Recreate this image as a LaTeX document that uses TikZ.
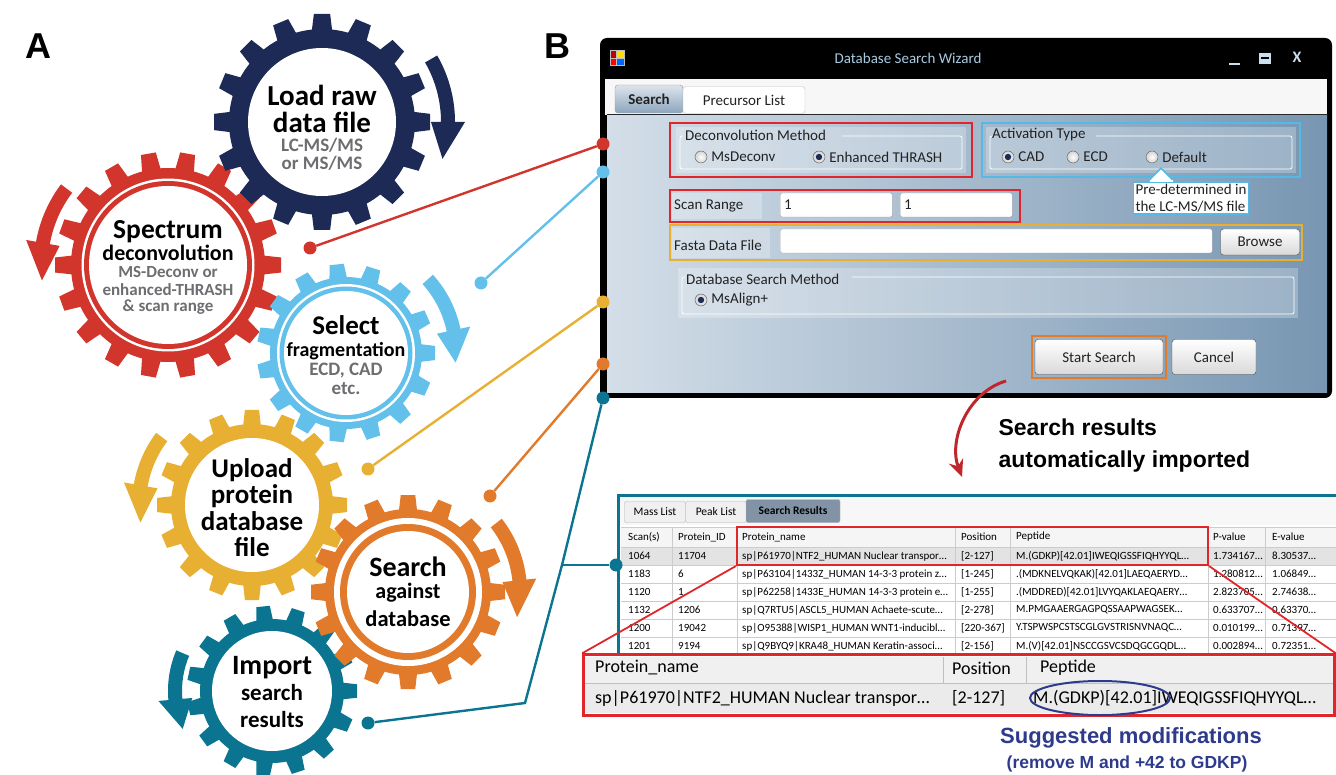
\documentclass[tikz,border=0pt]{standalone}
\usepackage{fontspec}
\setmainfont{Carlito}
\newfontfamily\arialfont{Liberation Sans}
\usetikzlibrary{positioning,arrows.meta,shapes.geometric}

\definecolor{gnavy}{HTML}{1C2A55}
\definecolor{gred}{HTML}{D1352B}
\definecolor{gblue}{HTML}{62C0EA}
\definecolor{gyellow}{HTML}{E8B033}
\definecolor{gorange}{HTML}{E27A2B}
\definecolor{gteal}{HTML}{0B7591}
\definecolor{subgray}{HTML}{6D6E71}
\definecolor{sugblue}{HTML}{2E3A8C}
\definecolor{winlo}{HTML}{D3DEE8}
\definecolor{winhi}{HTML}{7896B2}
\definecolor{titleblue}{HTML}{A8CBE2}
\definecolor{frred}{HTML}{E0262B}
\definecolor{tipblue}{HTML}{55B9E6}
\definecolor{uitext}{HTML}{222222}
\definecolor{arrred}{HTML}{C0272D}
\definecolor{tabdark}{HTML}{8293A6}

\newcommand{\drawgear}[6]{%
	\begin{scope}[shift={(#1,#2)}]
		\fill[#6] (0,0) circle (#4);
		\foreach \k in {1,...,#3} {{
			\fill[#6, rotate={360/#3*\k}] ({#4-4},{-1.8*#4/#3}) -- ({#5},{-1.4*#4/#3}) -- ({#5},{1.4*#4/#3}) -- ({#4-4},{1.8*#4/#3}) -- cycle;
		}}
	\end{scope}}

\newcommand{\drawturn}[7]{%
	\fill[#7, shift={(#1,#2)}] ({#4}:{#3-7}) arc[start angle={#4}, end angle={#5}, radius={#3-7}] -- ({#5}:{#3-17}) -- ({#6}:{#3}) -- ({#5}:{#3+17}) -- ({#5}:{#3+7}) arc[start angle={#5}, end angle={#4}, radius={#3+7}] -- cycle;}

\newcommand{\groupbox}[5]{%
	\fill[white, opacity=0.25] (#1,#2) rectangle (#3,#4);
	\draw[white, line width=0.8pt, rounded corners=2pt] (#5,{#2-9}) -- ({#3-4},{#2-9}) -- ({#3-4},{#4+4}) -- ({#1+4},{#4+4}) -- ({#1+4},{#2-9}) -- ({#1+7},{#2-9});}

\tikzset{
	gt/.style={font=\bfseries\fontsize{#1}{#1}\selectfont, inner sep=0pt},
	gs/.style={gt=#1, text=subgray},
	dot/.style={circle, fill=#1, inner sep=0pt, minimum size=13pt},
	link/.style={line width=2.4pt, draw=#1},
	hl/.style={draw=#1, line width=2pt},
	ui/.style={font=\fontsize{15}{18}\selectfont, text=uitext, inner sep=1pt},
	radio/.style={circle, draw=gray!70!black, inner color=white, outer color=gray!35, minimum size=12pt, inner sep=0pt},
	radioon/.style={radio, path picture={\fill[gnavy] (path picture bounding box.center) circle (3.2pt);}},
	field/.style={draw=gray!70, fill=white, rounded corners=2pt, minimum height=24pt, ui, inner sep=4pt, align=left},
	btn/.style={draw=gray!60!black, rounded corners=3pt, top color=white, bottom color=gray!30, ui, minimum height=35pt},
	tabbox/.style={draw=gray!60, fill=gray!12, rounded corners=2pt, minimum width=61pt, minimum height=21pt, font=\fontsize{11.5}{11.5}\selectfont, inner sep=1pt},
	tb/.style={font=\fontsize{11}{11}\selectfont, text=black, anchor=west, inner sep=0pt},
	zb/.style={font=\fontsize{18}{18}\selectfont, text=black, anchor=west, inner sep=0pt}
}

\begin{document}
\begin{tikzpicture}[x=1pt, y=1pt]
	\useasboundingbox (0,0) rectangle (1336,-775);

	\node[font=\arialfont\bfseries\fontsize{36}{36}\selectfont] (labA) at (38,-46) {A};
	\node[font=\arialfont\bfseries\fontsize{36}{36}\selectfont] (labB) at (557,-46) {B};

	% kola
	\drawgear{168}{-265}{18}{97}{113}{gred}
	\fill[white] (168,-265) circle (86.5);
	\fill[gred] (168,-265) circle (84);
	\fill[white] (168,-265) circle (79);

	\drawgear{322}{-122}{16}{93}{108}{gnavy}
	\fill[white] (322,-122) circle (74);

	\drawgear{346}{-353}{15}{76}{89}{gblue}
	\fill[white] (346,-353) circle (69);
	\fill[gblue] (346,-353) circle (66.5);
	\fill[white] (346,-353) circle (62);

	\drawgear{252}{-505}{16}{81}{95}{gyellow}
	\fill[white] (252,-505) circle (67);

	\drawgear{272}{-691}{15}{72}{85}{gteal}
	\fill[white] (272,-691) circle (60);

	\drawgear{408}{-592}{16}{83}{97}{gorange}
	\fill[white] (408,-592) circle (74);
	\fill[gorange] (408,-592) circle (68);
	\fill[white] (408,-592) circle (61);

	\drawturn{322}{-122}{126}{30}{0}{-17}{gnavy}
	\drawturn{168}{-265}{127}{143}{170}{187}{gred}
	\drawturn{346}{-353}{110}{42}{12}{-5}{gblue}
	\drawturn{252}{-505}{113}{143}{170}{189}{gyellow}
	\drawturn{408}{-592}{112}{38}{6}{-13}{gorange}
	\drawturn{272}{-691}{97}{157}{185}{203}{gteal}

	\node[gt=29] (n1a) at (322,-95) {Load raw};
	\node[gt=29] (n1b) at (322,-122) {data file};
	\node[gs=19] (n1c) at (322,-145) {LC-MS/MS};
	\node[gs=19] (n1d) at (322,-163) {or MS/MS};

	\node[gt=27.5] (n2a) at (168,-232) {Spectrum};
	\node[gt=22] (n2b) at (168,-253) {deconvolution};
	\node[gs=17] (n2c) at (168,-272) {MS-Deconv or};
	\node[gs=17] (n2d) at (168,-290) {enhanced-THRASH};
	\node[gs=17] (n2e) at (168,-307) {\& scan range};

	\node[gt=27] (n3a) at (346,-325) {Select};
	\node[gt=20] (n3b) at (346,-351) {fragmentation};
	\node[gs=19] (n3c) at (346,-371) {ECD, CAD};
	\node[gs=19] (n3d) at (346,-389) {etc.};

	\node[gt=27] (n4a) at (252,-470) {Upload};
	\node[gt=27] (n4b) at (252,-496) {protein};
	\node[gt=27] (n4c) at (252,-521) {database};
	\node[gt=27] (n4d) at (252,-547) {file};

	\node[gt=28] (n5a) at (408,-567) {Search};
	\node[gt=22] (n5b) at (408,-593) {against};
	\node[gt=22.5] (n5c) at (408,-619) {database};

	\node[gt=28] (n6a) at (272,-668) {Import};
	\node[gt=23] (n6b) at (272,-693) {search};
	\node[gt=23] (n6c) at (272,-720) {results};

	% okno
	\fill[black, rounded corners=7pt] (600,-38) rectangle (1332,-398);
	\node[text=titleblue, font=\fontsize{15}{15}\selectfont] (title) at (908,-58) {Database Search Wizard};
	\fill[gray!50] (610,-50) rectangle (625,-66);
	\fill[red!75!black] (611,-51) rectangle (616,-58);
	\fill[yellow!80!orange] (617,-51) rectangle (624,-58);
	\fill[red] (611,-59) rectangle (616,-65);
	\fill[blue!60!cyan] (617,-59) rectangle (624,-65);
	\draw[titleblue!60!white, line width=2pt] (1229,-64) -- (1240,-64);
	\fill[titleblue!60!white] (1259,-53) rectangle (1271,-64);
	\fill[black] (1261,-57.5) rectangle (1269,-59.5);
	\node[text=titleblue!60!white, font=\bfseries\fontsize{16}{16}\selectfont] (xbtn) at (1297,-57) {X};

	\fill[white!94!gray] (605,-79) rectangle (1327,-115);
	\shade[left color=winlo, right color=winhi] (607,-115) rectangle (1327,-393);
	\draw[gray!30!black, line width=1pt] (607,-115) -- (1327,-115);
	\node[draw=gray!80, top color=white!75!winhi, bottom color=winhi!85!white, rounded corners=3pt, minimum width=68pt, minimum height=28pt, font=\bfseries\fontsize{15}{15}\selectfont, text=uitext] (tabS) at (649,-99) {Search};
	\node[draw=gray!50, fill=white, rounded corners=3pt, minimum width=122pt, minimum height=27pt, ui] (tabP) at (744,-100) {Precursor List};

	\groupbox{676}{-127}{966}{-173}{842}
	\node[ui, anchor=west] (gdec) at (684,-135) {Deconvolution Method};
	\node[radio] (r1) at (701,-157) {};
	\node[ui, right=3pt of r1] (l1) {MsDeconv};
	\node[radioon] (r2) at (819,-157) {};
	\node[ui, right=3pt of r2] (l2) {Enhanced THRASH};
	\draw[hl=frred] (670,-123) rectangle (972,-177);

	\groupbox{986}{-127}{1296}{-173}{1096}
	\node[ui, anchor=west] (gact) at (991,-135) {Activation Type};
	\node[radioon] (r3) at (1008,-157) {};
	\node[ui, right=3pt of r3] (l3) {CAD};
	\node[radio] (r4) at (1073,-157) {};
	\node[ui, right=3pt of r4] (l4) {ECD};
	\node[radio] (r5) at (1152,-157) {};
	\node[ui, right=3pt of r5] (l5) {Default};
	\draw[hl=tipblue] (982,-123) rectangle (1300,-177);

	\node[ui, draw=tipblue, fill=white, line width=1.5pt, align=left, inner sep=2pt, font=\fontsize{15}{17}\selectfont] (tip) at (1191,-198) {Pre-determined in\\the LC-MS/MS file};
	\draw[tipblue, fill=white, line width=1.5pt] ([xshift=-43pt]tip.north) -- ([xshift=-30pt, yshift=13pt]tip.north) -- ([xshift=-17pt]tip.north);
	\draw[white, line width=2pt] ([xshift=-41.5pt]tip.north) -- ([xshift=-18.5pt]tip.north);

	\fill[white, opacity=0.25] (672,-193) rectangle (762,-219);
	\node[ui, anchor=west] (lscan) at (673,-206) {Scan Range};
	\node[field, text width=104pt, anchor=west] (f1) at (780,-205) {1};
	\node[field, text width=104pt, anchor=west] (f2) at (900,-205) {1};
	\draw[hl=frred] (670,-190) rectangle (1020,-222);

	\fill[white, opacity=0.25] (672,-228) rectangle (770,-258);
	\node[ui, anchor=west] (lfasta) at (673,-245) {Fasta Data File};
	\node[field, text width=424pt, anchor=west] (f3) at (780,-241) {};
	\node[btn, minimum width=79pt, minimum height=26pt] (browse) at (1260,-242) {Browse};
	\draw[hl=gyellow] (670,-225) rectangle (1302,-260);

	\groupbox{678}{-268}{1298}{-318}{852}
	\node[ui, anchor=west] (gdb) at (685,-279) {Database Search Method};
	\node[radioon] (r6) at (701,-300) {};
	\node[ui, right=3pt of r6] (l6) {MsAlign+};

	\node[btn, minimum width=128pt] (start) at (1099,-357) {Start Search};
	\draw[hl=gorange] ([shift={(-3pt,3pt)}]start.north west) rectangle ([shift={(3pt,-3pt)}]start.south east);
	\node[btn, minimum width=84pt] (cancel) at (1214,-357) {Cancel};

	% polaczenia
	\node[dot=gred] (p1) at (310,-248) {};
	\node[dot=gblue] (p2) at (481,-283) {};
	\node[dot=gyellow] (p3) at (368,-469) {};
	\node[dot=gorange] (p4) at (490,-496) {};
	\node[dot=gteal] (p5) at (368,-723) {};
	\node[dot=gred] (w1) at (603,-144) {};
	\node[dot=gblue] (w2) at (603,-172) {};
	\node[dot=gyellow] (w3) at (603,-302) {};
	\node[dot=gorange] (w4) at (603,-364) {};
	\node[dot=gteal] (w5) at (603,-398) {};
	\draw[link=gred] (p1) -- (w1);
	\draw[link=gblue] (p2) -- (w2);
	\draw[link=gyellow] (p3) -- (w3);
	\draw[link=gorange] (p4) -- (w4);
	\coordinate (k1) at (562,-565);
	\coordinate (k2) at (525,-703);
	\draw[link=gteal] (w5) -- (k1) -- (k2) -- (p5);

	\coordinate (a1) at (1006,-381);
	\coordinate (a2) at (962,-477);
	\draw[arrred, line width=3pt, -{Stealth[length=17pt, width=15pt]}] (a1) .. controls (968,-392) and (948,-440) .. (a2);
	\node[font=\arialfont\bfseries\fontsize{23}{32}\selectfont, align=left, anchor=west] (srtxt) at (995,-446) {Search results\\automatically imported};

	% tabela
	\draw[gteal, line width=3pt, fill=white] (618,-495) rectangle (1340,-656);
	\fill[gray!6] (620,-497) rectangle (1336,-525);
	\node[tabbox] (tm) at (655,-512) {Mass List};
	\node[tabbox] (tp) at (716,-512) {Peak List};
	\node[tabbox, fill=tabdark, minimum width=94pt, minimum height=23pt, font=\bfseries\fontsize{11.5}{11.5}\selectfont] (ts) at (793,-511) {Search Results};
	\fill[gray!8] (621,-527) rectangle (1336,-547);
	\fill[gray!22] (621,-547) rectangle (1336,-565);
	\foreach \y in {527,547,565,583,601,619,637} {{
		\draw[gray!40] (621,-\y) -- (1336,-\y);
	}}
	\foreach \x in {672,737,955,1010,1208,1265} {{
		\draw[gray!40] (\x,-527) -- (\x,-655);
	}}
	\foreach \x/\txt [count=\i] in {628/Scan(s), 678/Protein\_ID, 742/Protein\_name, 961/Position, 1016/Peptide, 1213/P-value, 1272/E-value} {{
		\node[tb] (h\i) at (\x,-537) {\txt};
	}}
	\foreach \y/\sc/\pid/\pn/\pos/\pep/\pv/\ev [count=\i] in {
		556/1064/11704/{sp|P61970|NTF2\_HUMAN Nuclear transpor\dots}/{[2-127]}/{M.(GDKP)[42.01]IWEQIGSSFIQHYYQL\dots}/{1.734167\dots}/{8.30537\dots},
		574/1183/6/{sp|P63104|1433Z\_HUMAN 14-3-3 protein z\dots}/{[1-245]}/{.(MDKNELVQKAK)[42.01]LAEQAERYD\dots}/{1.280812\dots}/{1.06849\dots},
		592/1120/1/{sp|P62258|1433E\_HUMAN 14-3-3 protein e\dots}/{[1-255]}/{.(MDDRED)[42.01]LVYQAKLAEQAERY\dots}/{2.823705\dots}/{2.74638\dots},
		610/1132/1206/{sp|Q7RTU5|ASCL5\_HUMAN Achaete-scute\dots}/{[2-278]}/{M.PMGAAERGAGPQSSAAPWAGSEK\dots}/{0.633707\dots}/{0.63370\dots},
		628/1200/19042/{sp|O95388|WISP1\_HUMAN WNT1-inducibl\dots}/{[220-367]}/{Y.TSPWSPCSTSCGLGVSTRISNVNAQC\dots}/{0.010199\dots}/{0.71397\dots},
		646/1201/9194/{sp|Q9BYQ9|KRA48\_HUMAN Keratin-associ\dots}/{[2-156]}/{M.(V)[42.01]NSCCGSVCSDQGCGQDL\dots}/{0.002894\dots}/{0.72351\dots}} {{
		\node[tb] (sc\i) at (628,-\y) {\sc};
		\node[tb] (pid\i) at (678,-\y) {\pid};
		\node[tb] (pn\i) at (742,-\y) {\pn};
		\node[tb] (pos\i) at (961,-\y) {\pos};
		\node[tb] (pep\i) at (1016,-\y) {\pep};
		\node[tb] (pv\i) at (1213,-\y) {\pv};
		\node[tb] (ev\i) at (1272,-\y) {\ev};
	}}
	\node[dot=gteal] (t5) at (616,-565) {};
	\draw[link=gteal] (k1) -- (t5);

	\node[draw=frred, line width=2pt, minimum width=471pt, minimum height=38pt, inner sep=0pt] (sel) at (972.5,-546) {};
	\node[draw=frred, line width=2.5pt, fill=white, minimum width=751pt, minimum height=61pt, inner sep=0pt] (zoom) at (959,-685) {};
	\draw[frred, line width=1.8pt] (sel.south west) -- (zoom.north west);
	\draw[frred, line width=1.8pt] (sel.south east) -- (zoom.north east);
	\fill[gray!12] (585,-657) rectangle (1333,-683);
	\fill[gray!16] (585,-684) rectangle (1333,-713);
	\draw[gray!50] (585,-683.5) -- (1333,-683.5);
	\draw[gray!50] (943,-657) -- (943,-683);
	\draw[gray!50] (1026,-657) -- (1026,-683);
	\node[zb] (zh1) at (595,-668) {Protein\_name};
	\node[zb] (zh2) at (952,-668) {Position};
	\node[zb] (zh3) at (1040,-668) {Peptide};
	\node[zb] (zr1) at (595,-698) {sp|P61970|NTF2\_HUMAN Nuclear transpor\dots};
	\node[zb] (zr2) at (952,-698) {[2-127]};
	\node[zb] (zr3) at (1033,-698) {M.(GDKP)[42.01]IWEQIGSSFIQHYYQL\dots};
	\node[draw=sugblue, line width=2pt, ellipse, minimum width=140pt, minimum height=34pt, inner sep=0pt] (mod) at (1100,-698) {};

	\node[text=sugblue, font=\arialfont\bfseries\fontsize{22}{22}\selectfont] (sug) at (1131,-738) {Suggested modifications};
	\node[text=sugblue, font=\arialfont\bfseries\fontsize{17.5}{18}\selectfont] (sug2) at (1127,-764) {(remove M and +42 to GDKP)};
\end{tikzpicture}
\end{document}
